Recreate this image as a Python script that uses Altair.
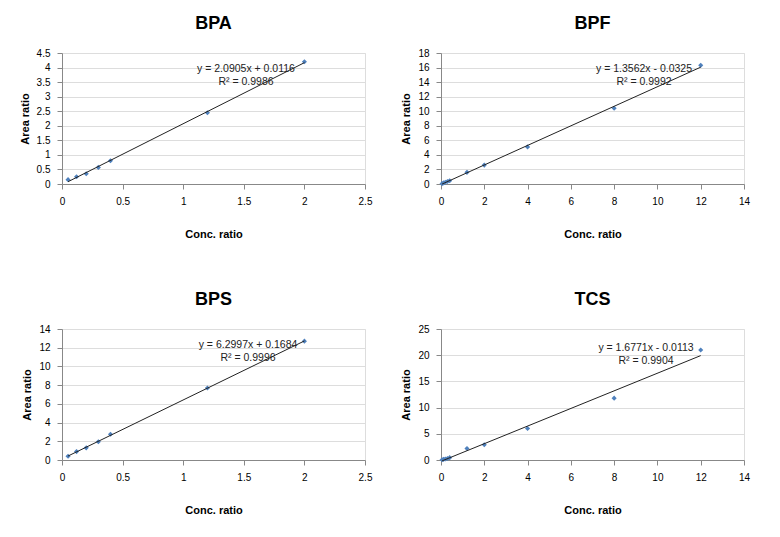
import altair as alt
import pandas as pd

# ---- data ----
BPA_x = [0.05, 0.12, 0.2, 0.3, 0.4, 1.2, 2.0]
BPA_y = [0.15, 0.25, 0.35, 0.57, 0.8, 2.45, 4.2]

BPF_x = [0.05, 0.12, 0.2, 0.3, 0.4, 1.2, 2.0, 4.0, 8.0, 12.0]
BPF_y = [0.05, 0.15, 0.25, 0.35, 0.45, 1.6, 2.6, 5.1, 10.4, 16.3]

BPS_x = [0.05, 0.12, 0.2, 0.3, 0.4, 1.2, 2.0]
BPS_y = [0.4, 0.9, 1.3, 1.95, 2.75, 7.7, 12.7]

TCS_x = [0.05, 0.12, 0.2, 0.3, 0.4, 1.2, 2.0, 4.0, 8.0, 12.0]
TCS_y = [0.05, 0.12, 0.2, 0.3, 0.45, 2.2, 2.9, 6.0, 11.8, 21.0]

titles = ["BPA", "BPF", "BPS", "TCS"]
equations = ["y = 2.0905x + 0.0116", "y = 1.3562x - 0.0325",
             "y = 6.2997x + 0.1684", "y = 1.6771x - 0.0113"]
r2_labels = ["R² = 0.9986", "R² = 0.9992", "R² = 0.9996", "R² = 0.9904"]

x_domains = [[0, 2.5], [0, 14], [0, 2.5], [0, 14]]
x_ticks = [[0, 0.5, 1, 1.5, 2, 2.5], list(range(0, 15, 2)),
           [0, 0.5, 1, 1.5, 2, 2.5], list(range(0, 15, 2))]
y_domains = [[0, 4.5], [0, 18], [0, 14], [0, 25]]
y_ticks = [[0, 0.5, 1, 1.5, 2, 2.5, 3, 3.5, 4, 4.5], list(range(0, 19, 2)),
           list(range(0, 15, 2)), list(range(0, 26, 5))]

series = [(BPA_x, BPA_y), (BPF_x, BPF_y), (BPS_x, BPS_y), (TCS_x, TCS_y)]

# annotation placement (pixels inside each plot area)
label_px = [184, 203, 186, 205]
label_py = [16, 16, 16, 19]

FONT = "Liberation Sans"
W, H = 303, 131


def panel(i):
    xs, ys = series[i]
    df = pd.DataFrame({"x": xs, "y": ys})
    base = alt.Chart(df)
    xenc = alt.X("x:Q", scale=alt.Scale(domain=x_domains[i], nice=False),
                 axis=alt.Axis(title="Conc. ratio", values=x_ticks[i], grid=False,
                               labelExpr="datum.value", labelFlush=False,
                               labelOverlap=False,
                               titlePadding=22, labelPadding=7))
    yenc = alt.Y("y:Q", scale=alt.Scale(domain=y_domains[i], nice=False),
                 axis=alt.Axis(title="Area ratio", values=y_ticks[i], grid=True,
                               labelExpr="datum.value", labelFlush=False,
                               labelOverlap=False,
                               titlePadding=6, labelPadding=7))
    pts = base.mark_point(shape="diamond", filled=True, size=26,
                          color="#4F81BD", opacity=1).encode(x=xenc, y=yenc)
    line = base.transform_regression("x", "y").mark_line(
        color="#222222", strokeWidth=1).encode(x=xenc, y=yenc)
    eq = alt.Chart(pd.DataFrame({"t": [equations[i]]})).mark_text(
        font=FONT, fontSize=10.5, color="#222222", align="center"
    ).encode(text="t:N", x=alt.value(label_px[i]), y=alt.value(label_py[i]))
    r2 = alt.Chart(pd.DataFrame({"t": [r2_labels[i]]})).mark_text(
        font=FONT, fontSize=10.5, color="#222222", align="center"
    ).encode(text="t:N", x=alt.value(label_px[i]), y=alt.value(label_py[i] + 13))
    return alt.layer(pts, line, eq, r2).properties(
        width=W, height=H,
        title=alt.TitleParams(titles[i], fontSize=18, font=FONT, fontWeight="bold",
                              color="#000000", offset=15, anchor="middle"))


row1 = alt.hconcat(panel(0), panel(1), spacing=27)
row2 = alt.hconcat(panel(2), panel(3), spacing=27)
chart = alt.vconcat(row1, row2, spacing=50).properties(
    padding={"left": 10, "top": 6, "right": 5, "bottom": 5}
).configure_view(
    stroke=None
).configure_axis(
    labelFont=FONT, titleFont=FONT, labelFontSize=11, titleFontSize=10,
    titleFontWeight="bold", labelColor="#222222", titleColor="#222222",
    gridColor="#8f8f8f", gridWidth=1, domainColor="#8f8f8f", ticks=False
).configure(background="white")

chart.save("out.html", embed_options={"renderer": "svg", "actions": False})
